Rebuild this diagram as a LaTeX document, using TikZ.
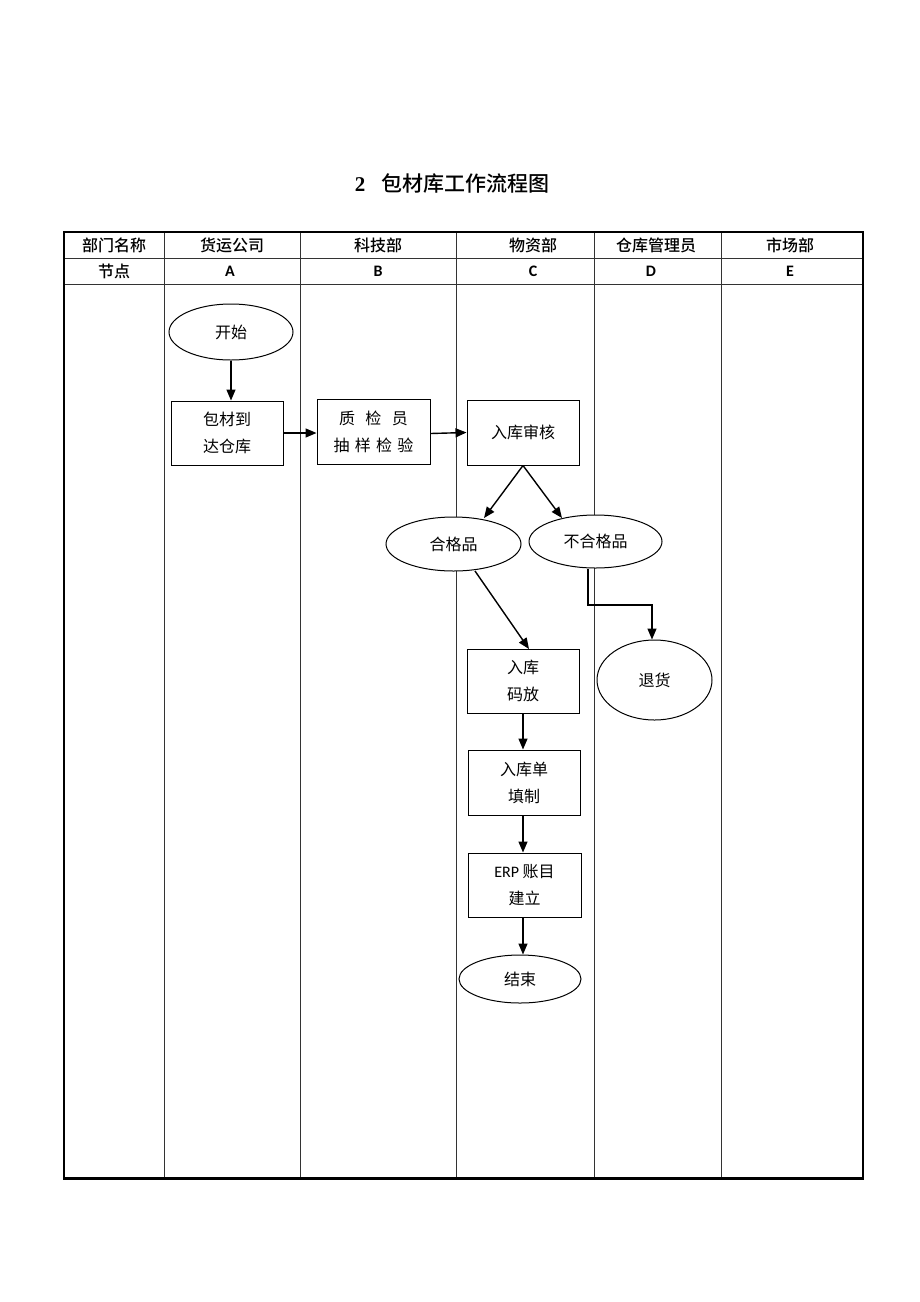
\documentclass[tikz,border=0pt]{standalone}
\usepackage{fontspec}
\setmainfont{Liberation Serif}
\newfontfamily\cjk{Noto Sans CJK SC}
\newfontfamily\cjkhead{Noto Sans CJK SC Medium}
\newfontfamily\latinhead{Carlito}
\usetikzlibrary{shapes.geometric,arrows.meta}
\begin{document}
\begin{tikzpicture}[x=1pt,y=-1pt,
  grid/.style={line width=0.9pt,black!80},
  frame/.style={line width=1.8pt},
  stepbox/.style={draw,fill=white,line width=1pt,minimum width=112pt,minimum height=64pt,align=center,font=\cjk\fontsize{16}{27}\selectfont,inner sep=0pt},
  oval/.style={draw,fill=white,ellipse,line width=1pt,inner sep=0pt,font=\cjk\fontsize{16}{18}\selectfont},
  flow/.style={line width=1.4pt,-{Triangle[length=11pt,width=9pt]}},
  head/.style={font=\cjkhead\fontsize{16}{18}\selectfont},
  headl/.style={font=\latinhead\bfseries\fontsize{16}{18}\selectfont}]
\useasboundingbox (0,0) rectangle (920,1302);
\fill[white] (0,0) rectangle (920,1302);
% title
\node[font=\cjkhead\fontsize{21}{24}\selectfont] (title) at (452,184) {{\rmfamily\bfseries 2}\hspace{16pt}包材库工作流程图};
% table
\foreach \x in {164,300,456,594,721} \draw[grid] (\x,232) -- (\x,1178);
\draw[grid] (64,258) -- (863,258);
\draw[grid] (64,284) -- (863,284);
\draw[frame] (64,232) rectangle (863,1178);
\draw[line width=3pt] (63,1178) -- (864,1178);
% header
\node[head] (h0) at (114,245) {部门名称};
\node[head] (h1) at (232,245) {货运公司};
\node[head] (h2) at (378,245) {科技部};
\node[head] (h3) at (533,245) {物资部};
\node[head] (h4) at (656,245) {仓库管理员};
\node[head] (h5) at (790,245) {市场部};
\node[head] (n0) at (114,271) {节点};
\node[headl] (n1) at (230,271) {A};
\node[headl] (n2) at (378,271) {B};
\node[headl] (n3) at (533,271) {C};
\node[headl] (n4) at (651,271) {D};
\node[headl] (n5) at (790,271) {E};
% nodes
\node[oval,minimum width=124pt,minimum height=56pt] (start) at (231,332) {开始};
\node[stepbox] (arrive) at (227,433) {包材到\\达仓库};
\node[stepbox,minimum width=113pt,minimum height=65pt] (qc) at (373.5,431.5) {\makebox[90pt]{质\hfil 检\hfil 员}\\\makebox[90pt]{抽\hfil 样\hfil 检\hfil 验}};
\node[stepbox,minimum height=65pt] (audit) at (523,432.5) {入库审核};
\node[oval,minimum width=135pt,minimum height=54pt] (ok) at (453.5,544) {合格品};
\node[oval,minimum width=133pt,minimum height=53pt] (ng) at (595.5,541.5) {不合格品};
\node[stepbox] (store) at (523,681) {入库\\码放};
\node[oval,minimum width=115pt,minimum height=80pt] (ret) at (654.5,680) {退货};
\node[stepbox,minimum height=65pt] (form) at (524,782.5) {入库单\\填制};
\node[stepbox,minimum width=113pt] (erp) at (524.5,885) {{\fontspec{Carlito}ERP} 账目\\建立};
\node[oval,minimum width=122pt,minimum height=48pt] (end) at (520,979) {结束};
% connectors
\draw[flow] (start.south) -- (arrive.north -| start.south);
\draw[flow] (arrive.east) -- (arrive.east -| qc.west);
\draw[flow] ([yshift=-2pt]qc.east) -- (audit.west);
\draw[flow] (audit.south) -- (484,518);
\draw[flow] (audit.south) -- (562,518);
\draw[flow] (475,571) -- (529,649);
\coordinate (ngout) at (588,569);
\draw[flow] (ngout) -- (588,605) -- (652,605) -- (ret.north -| 652,0);
\draw[flow] (store.south) -- (form.north -| store.south);
\draw[flow] (form.south -| 523,0) -- (erp.north -| 523,0);
\draw[flow] (erp.south -| 523,0) -- (end.north -| 523,0);
\end{tikzpicture}
\end{document}
